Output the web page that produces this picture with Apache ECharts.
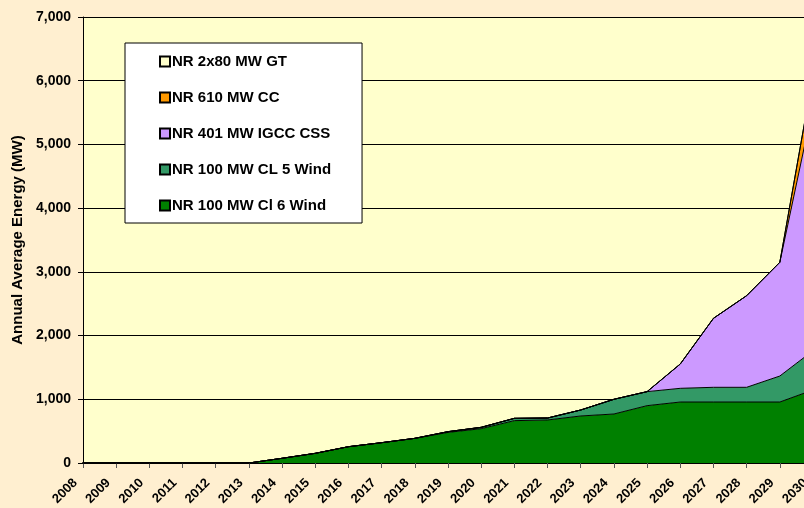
<!DOCTYPE html>
<html>
<head>
<meta charset="utf-8">
<script src="https://cdn.jsdelivr.net/npm/echarts@6/dist/echarts.min.js"></script>
<style>
  html, body { margin: 0; padding: 0; background: #FFEFD0; overflow: hidden; }
  #main { width: 820px; height: 508px; }
</style>
</head>
<body>
<div id="main"></div>
<script>
// years on the x axis (the last one runs past the right edge, as in the original)
const years = ['2008', '2009', '2010', '2011', '2012', '2013', '2014', '2015', '2016', '2017', '2018', '2019',
               '2020', '2021', '2022', '2023', '2024', '2025', '2026', '2027', '2028', '2029', '2030'];

// stacked values (MW), bottom layer first
const cl6Wind = [0, 0, 0, 0, 0, 0, 74, 152, 256, 319, 387, 480, 539, 665, 675, 738, 769, 900, 957, 957, 957, 957, 1146];
const cl5Wind = [0, 0, 0, 0, 0, 0, 0, 0, 0, 0, 0, 12, 21, 36, 31, 94, 231, 220, 215, 231, 231, 408, 617];
const igccCss = [0, 0, 0, 0, 0, 0, 0, 0, 0, 0, 0, 0, 0, 0, 0, 0, 0, 0, 382, 1083, 1438, 1785, 3841];
const cc610   = [0, 0, 0, 0, 0, 0, 0, 0, 0, 0, 0, 0, 0, 0, 0, 0, 0, 0, 0, 0, 0, 0, 484];
const gt2x80  = [0, 0, 0, 0, 0, 0, 0, 0, 0, 0, 0, 0, 0, 0, 0, 0, 0, 0, 0, 0, 0, 0, 0];

const yTicks = { min: 0, max: 7000, interval: 1000 };

const font = 'Arial, "Liberation Sans", sans-serif';

function layer(name, data, color) {
    return {
        name: name,
        type: 'line',
        stack: 'total',
        data: data,
        symbol: 'none',
        lineStyle: { color: '#000', width: 1 },
        areaStyle: { color: color, opacity: 1 },
        itemStyle: { color: color, borderColor: '#000', borderWidth: 1 },
        z: 2
    };
}

let chart = echarts.init(document.getElementById('main'));

chart.setOption({
    animation: false,
    backgroundColor: '#FFEFD0',
    grid: {
        left: 83, top: 17, bottom: 45, right: 7,
        outerBoundsMode: 'none',
        show: true,
        backgroundColor: '#FFFFCC',
        borderWidth: 0
    },
    legend: {
        orient: 'vertical',
        left: 125,
        top: 43,
        backgroundColor: '#fff',
        borderColor: '#000',
        borderWidth: 1,
        padding: [11, 31, 10, 34],
        itemWidth: 10,
        itemHeight: 10,
        itemGap: 21,
        icon: 'rect',
        textStyle: { fontFamily: font, fontWeight: 'bold', fontSize: 15, color: '#000', padding: [0, 0, 0, -3] },
        data: ['NR 2x80 MW GT', 'NR 610 MW CC', 'NR 401 MW IGCC CSS', 'NR 100 MW CL 5 Wind', 'NR 100 MW Cl 6 Wind']
    },
    xAxis: {
        type: 'category',
        data: years,
        boundaryGap: false,
        axisLine: { lineStyle: { color: '#000', width: 2 } },
        axisTick: { show: true, alignWithLabel: true, length: 5, lineStyle: { color: '#555' } },
        axisLabel: {
            interval: 0,
            rotate: 45,
            margin: 10,
            padding: [0, 11, 0, 0],
            fontFamily: font,
            fontWeight: 'bold',
            fontSize: 13,
            color: '#000'
        },
        splitLine: { show: false }
    },
    yAxis: {
        type: 'value',
        min: yTicks.min,
        max: yTicks.max,
        interval: yTicks.interval,
        name: 'Annual Average Energy (MW)',
        nameLocation: 'middle',
        nameGap: 58,
        nameTextStyle: { fontFamily: font, fontWeight: 'bold', fontSize: 15, color: '#000' },
        axisLine: { show: true, lineStyle: { color: '#000', width: 1 } },
        axisTick: { show: true, length: 5, lineStyle: { color: '#000' } },
        axisLabel: {
            margin: 12,
            fontFamily: font,
            fontWeight: 'bold',
            fontSize: 14,
            color: '#000',
            formatter: function (v) { return v.toLocaleString('en-US'); }
        },
        splitLine: { show: true, lineStyle: { color: '#000', width: 1 } }
    },
    series: [
        layer('NR 100 MW Cl 6 Wind', cl6Wind, '#008000'),
        layer('NR 100 MW CL 5 Wind', cl5Wind, '#339966'),
        layer('NR 401 MW IGCC CSS', igccCss, '#CC99FF'),
        layer('NR 610 MW CC', cc610, '#FF9900'),
        layer('NR 2x80 MW GT', gt2x80, '#FFFFCC')
    ]
});
</script>
</body>
</html>
